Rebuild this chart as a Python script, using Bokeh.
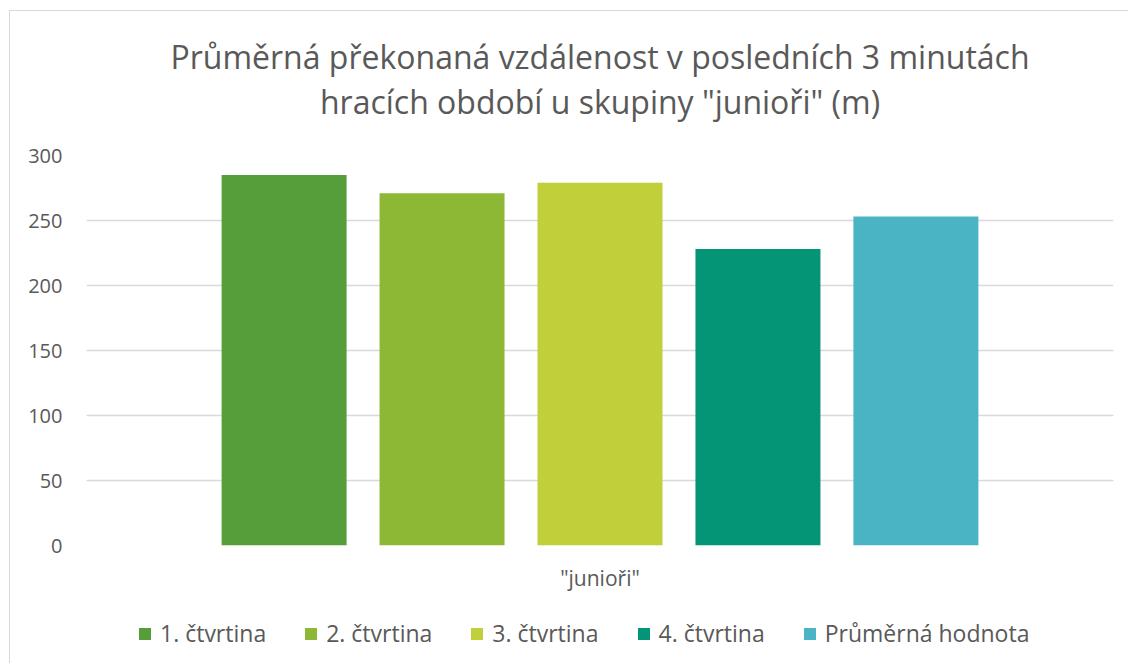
from bokeh.plotting import figure
from bokeh.layouts import column
from bokeh.models import FactorRange, Range1d, ColumnDataSource, Legend, LegendItem, Title
from bokeh.transform import dodge
from bokeh.embed import file_html
from bokeh.resources import INLINE

title_lines = ["Průměrná překonaná vzdálenost v posledních 3 minutách",
               "hracích období u skupiny \"junioři\" (m)"]
category = ['"junioři"']
series_names = ["1. čtvrtina", "2. čtvrtina", "3. čtvrtina", "4. čtvrtina", "Průměrná hodnota"]
series_values = [285, 271, 279, 228, 253]
series_colors = ["#559E39", "#8CB836", "#C0D03A", "#039575", "#4AB4C5"]
y_ticks = [0, 50, 100, 150, 200, 250, 300]

FONT = "Open Sans"
TEXT = "#595959"
GRID = "#D9D9D9"

p = figure(width=1118, height=594, x_range=FactorRange(factors=category, range_padding=0),
           y_range=Range1d(0, 300), output_backend="svg", toolbar_location=None,
           min_border_left=76, min_border_right=15, min_border_top=144, min_border_bottom=60)
p.title = None
p.outline_line_color = None

# stacked outward from the frame: spacer, second line, first line
p.add_layout(Title(text=" ", text_font_size="1px", text_color="white", standoff=30), "above")
p.add_layout(Title(text=title_lines[1], align="center", text_font=FONT, text_font_size="32px",
                   text_color=TEXT, text_font_style="normal", text_line_height=1.0, standoff=0), "above")
p.add_layout(Title(text=title_lines[0], align="center", text_font=FONT, text_font_size="32px",
                   text_color=TEXT, text_font_style="normal", text_line_height=1.0, standoff=0), "above")

step = 0.1538
width = 0.1217
n = len(series_names)
for i, (val, col) in enumerate(zip(series_values, series_colors)):
    src = ColumnDataSource(dict(x=category, top=[val]))
    p.vbar(x=dodge("x", (i - (n - 1) / 2) * step, range=p.x_range), top="top", width=width,
           source=src, fill_color=col, line_color=None)

p.yaxis.ticker = y_ticks
p.ygrid.ticker = y_ticks
p.ygrid.grid_line_color = GRID
p.ygrid.grid_line_width = 1.5
p.xgrid.grid_line_color = None
for ax in (p.xaxis[0], p.yaxis[0]):
    ax.axis_line_color = None
    ax.major_tick_line_color = None
    ax.minor_tick_line_color = None
    ax.major_label_text_font = FONT
    ax.major_label_text_color = TEXT
p.yaxis.major_label_text_font_size = "20px"
p.yaxis.major_label_standoff = 18
p.xaxis.major_label_text_font_size = "21px"
p.xaxis.major_label_standoff = 12

# legend strip (its frame is aligned with the main frame by the column layout)
p2 = figure(width=1118, height=58, x_range=Range1d(0, 1), y_range=Range1d(0, 1),
            output_backend="svg", toolbar_location=None, min_border=0)
p2.title = None
p2.outline_line_color = None
p2.axis.visible = False
p2.grid.grid_line_color = None
items = []
for name, val, col in zip(series_names, series_values, series_colors):
    # hidden swatch renderers: only their legend glyph is drawn
    r = p2.vbar(x=[0.5], top=[val], width=0.1, fill_color=col, line_color=None, visible=False)
    items.append(LegendItem(label=name, renderers=[r]))
legend = Legend(items=items, orientation="horizontal", location=(51, 14),
                label_text_font=FONT, label_text_font_size="23px", label_text_color=TEXT,
                glyph_width=15, glyph_height=15, label_standoff=8, spacing=37,
                border_line_color=None, background_fill_alpha=0, padding=0, margin=0,
                inactive_fill_alpha=0)
p2.add_layout(legend, "center")

layout = column(p, p2, spacing=0)
layout.styles = {"margin-left": "9px", "margin-top": "10px",
                 "border-left": "1.5px solid #D9D9D9", "border-top": "1.5px solid #D9D9D9"}

open("out.html", "w").write(file_html(layout, INLINE))
